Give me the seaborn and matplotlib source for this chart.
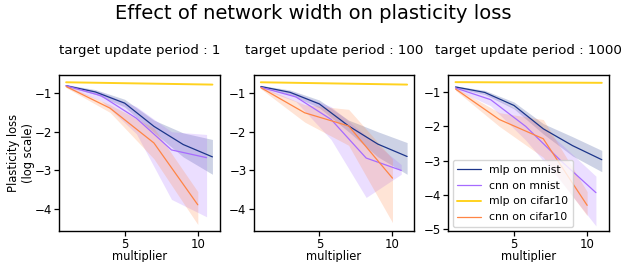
import matplotlib
matplotlib.use('Agg')
import matplotlib.pyplot as plt
import seaborn as sns
import pandas as pd

# --- data (log-scale plasticity loss, mean and band limits) -----------------
periods = [1, 100, 1000]

x_mlp = [1, 3, 5, 7, 9, 11]
x_cnn_mnist = [1, 3.4, 5.8, 8.2, 10.6]
x_cnn_cifar = [1, 4, 7, 10]
x_mlp_cifar = [1, 11]

mlp_mnist = [
    [-0.81, -0.97, -1.26, -1.86, -2.33, -2.65],
    [-0.83, -0.98, -1.28, -1.85, -2.32, -2.64],
    [-0.85, -1.01, -1.39, -2.07, -2.56, -2.97],
]
mlp_mnist_lo = [
    [-0.84, -1.03, -1.36, -2.02, -2.65, -3.10],
    [-0.86, -1.04, -1.38, -2.00, -2.65, -3.10],
    [-0.88, -1.07, -1.49, -2.22, -2.86, -3.32],
]
mlp_mnist_hi = [
    [-0.78, -0.91, -1.16, -1.70, -2.03, -2.20],
    [-0.80, -0.92, -1.18, -1.70, -2.00, -2.28],
    [-0.82, -0.95, -1.29, -1.92, -2.30, -2.70],
]

cnn_mnist = [
    [-0.81, -1.07, -1.65, -2.47, -2.67],
    [-0.85, -1.10, -1.68, -2.68, -3.00],
    [-0.88, -1.22, -2.00, -3.00, -3.93],
]
cnn_mnist_lo = [
    [-0.85, -1.20, -2.05, -3.75, -4.20],
    [-0.88, -1.22, -2.20, -3.70, -3.10],
    [-0.92, -1.40, -2.40, -3.60, -4.90],
]
cnn_mnist_hi = [
    [-0.77, -0.98, -1.35, -2.00, -2.07],
    [-0.82, -1.00, -1.35, -2.10, -2.85],
    [-0.84, -1.08, -1.65, -2.50, -3.45],
]

mlp_cifar = [
    [-0.72, -0.78],
    [-0.72, -0.78],
    [-0.71, -0.73],
]

cnn_cifar = [
    [-0.83, -1.39, -2.29, -3.89],
    [-0.86, -1.51, -1.85, -3.20],
    [-0.91, -1.80, -2.36, -4.30],
]
cnn_cifar_lo = [
    [-0.86, -1.50, -2.70, -4.40],
    [-0.89, -1.75, -2.35, -4.35],
    [-0.95, -2.00, -2.90, -4.60],
]
cnn_cifar_hi = [
    [-0.80, -1.30, -1.90, -3.55],
    [-0.83, -1.30, -1.42, -2.70],
    [-0.87, -1.60, -1.80, -3.90],
]

labels = ['mlp on mnist', 'cnn on mnist', 'mlp on cifar10', 'cnn on cifar10']
colors = ['#1c358a', '#a66bff', '#ffd21f', '#ff8545']

sns.set_style('ticks')
plt.rcParams['font.family'] = ['DejaVu Sans']
plt.rcParams['text.color'] = 'black'
plt.rcParams['axes.labelcolor'] = 'black'
plt.rcParams['xtick.color'] = 'black'
plt.rcParams['ytick.color'] = 'black'

fig, axes = plt.subplots(1, 3, figsize=(6.26, 2.62), dpi=100)
fig.subplots_adjust(left=0.094, right=0.973, bottom=0.118, top=0.714, wspace=0.21)

for k, ax in enumerate(axes):
    series = [
        (x_mlp, mlp_mnist[k], mlp_mnist_lo[k], mlp_mnist_hi[k]),
        (x_cnn_mnist, cnn_mnist[k], cnn_mnist_lo[k], cnn_mnist_hi[k]),
        (x_mlp_cifar, mlp_cifar[k], None, None),
        (x_cnn_cifar, cnn_cifar[k], cnn_cifar_lo[k], cnn_cifar_hi[k]),
    ]
    for (xs, ys, lo, hi), lab, col in zip(series, labels, colors):
        df = pd.DataFrame({'multiplier': xs, 'loss': ys})
        sns.lineplot(data=df, x='multiplier', y='loss', ax=ax, color=col,
                     lw=1.4 if lo is None else 0.9, label=lab)
        if lo is not None:
            ax.fill_between(xs, lo, hi, color=col, alpha=0.22, lw=0)
    ax.set_xlim(0.5, 11.5)
    ax.set_title(f'target update period : {periods[k]}', fontsize=9.6, pad=15,
                 color='black')
    ax.set_xlabel('multiplier', fontsize=8.3, labelpad=-0.5)
    ax.set_ylabel('')
    ax.tick_params(labelsize=8.5, length=3.5, pad=1.5, width=0.9)
    for s in ax.spines.values():
        s.set_color('black')
        s.set_linewidth(1.0)
    ax.set_xticks([5, 10])
    if k < 2:
        ax.get_legend().remove()

axes[0].set_ylim(-4.57, -0.53)
axes[1].set_ylim(-4.57, -0.53)
axes[2].set_ylim(-5.05, -0.5)
axes[0].set_yticks([-1, -2, -3, -4])
axes[1].set_yticks([-1, -2, -3, -4])
axes[2].set_yticks([-1, -2, -3, -4, -5])
axes[0].set_ylabel('Plasticity loss\n(log scale)', fontsize=8.3, labelpad=0)
axes[2].legend(loc='lower left', fontsize=7.8, handlelength=2.2,
               labelspacing=0.55, borderaxespad=0.4)

fig.suptitle('Effect of network width on plasticity loss', fontsize=14, y=0.985,
             color='black')

plt.savefig('out.png', dpi=100)
plt.close()
